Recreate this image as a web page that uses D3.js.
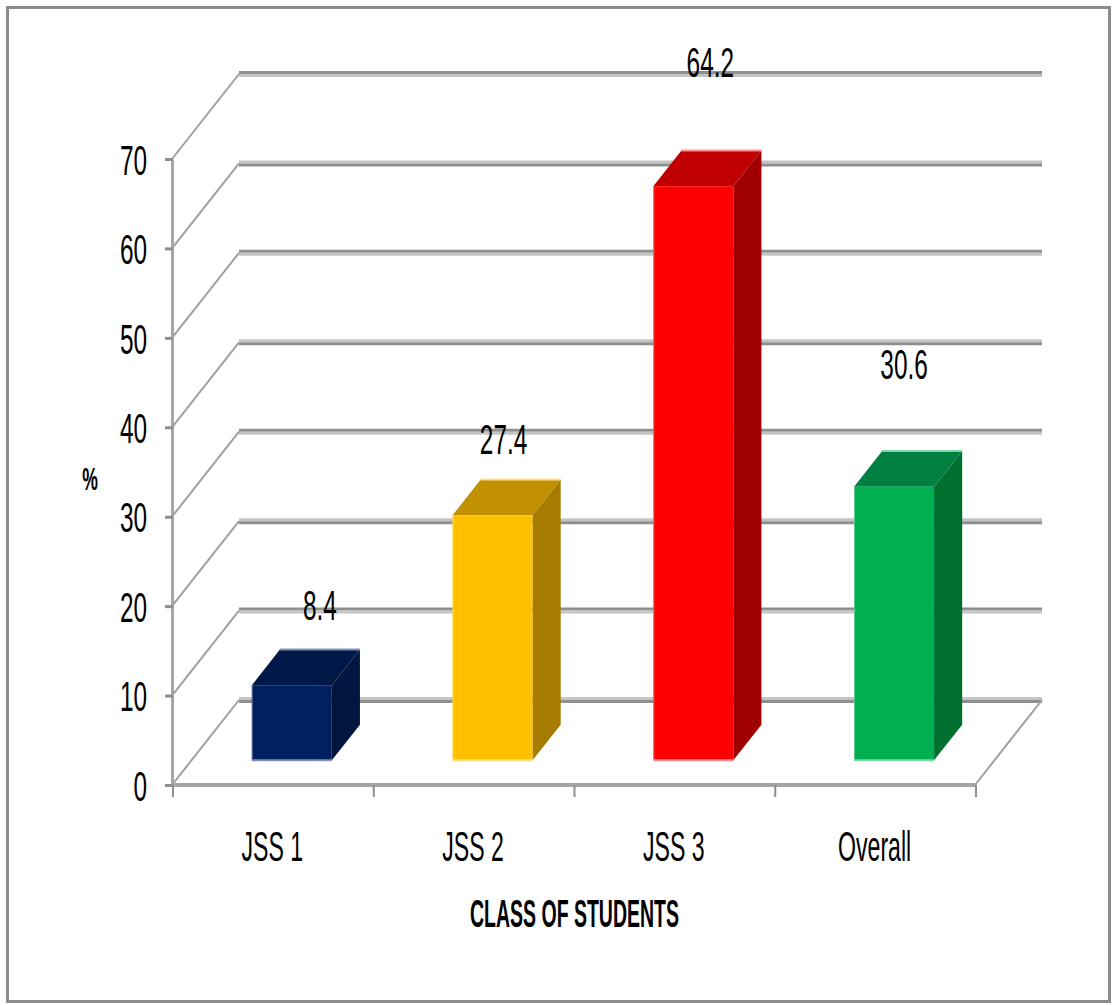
<!DOCTYPE html>
<html>
<head>
<meta charset="utf-8">
<script src="https://cdn.jsdelivr.net/npm/d3@7"></script>
<style>
  body { margin: 0; background: #fff; }
  text { font-family: "Liberation Sans", Arial, sans-serif; fill: #000; }
</style>
</head>
<body>
<div id="chart"></div>
<script>
// data
const categories = ["JSS 1", "JSS 2", "JSS 3", "Overall"];
const values = [8.4, 27.4, 64.2, 30.6];
const yTicks = [0, 10, 20, 30, 40, 50, 60, 70];
const xTitle = "CLASS OF STUDENTS";
const yTitle = "%";

// look
const faceColors = ["#002060", "#FFC000", "#FF0000", "#00B050"];
const topColors = ["#001848", "#C09000", "#C00000", "#008040"];
const sideColors = ["#00163f", "#A67C00", "#A00000", "#007030"];
const edgeColors = ["#8090b4", "#ffe08a", "#ff9090", "#80d8a8"];
// excel label placement nudges (dx, dy from front top centre)
const labelNudge = [[28, -80], [11, -76], [17, -124], [10, -122]];

const W = 1113, H = 1006;
const depthX = 67, depthY = -85;  // full depth offset of the back wall
const zFront = 0.29, zBack = 0.71; // bar depth span

const svg = d3.select("#chart")
    .append("svg")
    .attr("width", W)
    .attr("height", H);

const x = d3.scaleBand()
    .domain(categories)
    .range([172, 975]);

const y = d3.scaleLinear()
    .domain([0, 70])
    .range([785, 159]);

// oblique projection: x, value, depth -> screen
function P(px, v, z) {
    return [px + z * depthX, y(v) + z * depthY];
}

function squeezed(g, str, tx, ty, size, sx, anchor, weight) {
    return g.append("text")
        .attr("transform", "translate(" + tx + "," + ty + ") scale(" + sx + ",1)")
        .attr("text-anchor", anchor || "middle")
        .attr("dy", "0.35em")
        .style("font-size", size + "px")
        .style("font-weight", weight || "normal")
        .text(str);
}

// outer border
svg.append("rect")
    .attr("x", 7.5).attr("y", 7.5)
    .attr("width", 1102).attr("height", 994)
    .attr("fill", "none")
    .attr("stroke", "#8c8c8c")
    .attr("stroke-width", 3);

const walls = svg.append("g");

// back wall gridlines
yTicks.forEach((t, i) => {
    const a = P(x.range()[0], t, 1), b = P(x.range()[1], t, 1);
    walls.append("line")
        .attr("x1", a[0]).attr("y1", a[1] - 1.5)
        .attr("x2", b[0]).attr("y2", b[1] - 1.5)
        .attr("stroke", i % 2 ? "#8e8e8e" : "#c4c4c4")
        .attr("stroke-width", 3);
    walls.append("line")
        .attr("x1", a[0]).attr("y1", a[1] + 1.5)
        .attr("x2", b[0]).attr("y2", b[1] + 1.5)
        .attr("stroke", i % 2 ? "#c4c4c4" : "#8e8e8e")
        .attr("stroke-width", 3);
});

// side wall diagonals
yTicks.forEach(t => {
    const a = P(x.range()[0], t, 0), b = P(x.range()[0], t, 1);
    walls.append("line")
        .attr("x1", a[0]).attr("y1", a[1])
        .attr("x2", b[0]).attr("y2", b[1])
        .attr("stroke", "#a0a0a0")
        .attr("stroke-width", 2);
});

// floor right edge + front edge
{
    const a = P(x.range()[1], 0, 0), b = P(x.range()[1], 0, 1);
    walls.append("line")
        .attr("x1", a[0]).attr("y1", a[1])
        .attr("x2", b[0]).attr("y2", b[1])
        .attr("stroke", "#a0a0a0")
        .attr("stroke-width", 2);
    const c = P(x.range()[0], 0, 0);
    walls.append("line")
        .attr("x1", c[0]).attr("y1", c[1])
        .attr("x2", a[0]).attr("y2", a[1])
        .attr("stroke", "#a6a6a6")
        .attr("stroke-width", 4);
}

// y axis
const yAxis = svg.append("g")
    .attr("transform", "translate(172,0)")
    .call(d3.axisLeft(y).tickValues(yTicks).tickSize(7).tickSizeOuter(0).tickPadding(0));
yAxis.select(".domain").attr("stroke", "#a6a6a6").attr("stroke-width", 3);
yAxis.selectAll(".tick line").attr("stroke", "#8e8e8e").attr("stroke-width", 3).attr("x2", -7).attr("x1", 1);
yAxis.selectAll(".tick text").remove();
yTicks.forEach(t => squeezed(svg, t, 147, y(t) + 1, 42, 0.58, "end"));

// x axis ticks
const xAxis = svg.append("g")
    .attr("transform", "translate(0," + y(0) + ")")
    .call(d3.axisBottom(x).tickSize(0).tickSizeOuter(0));
xAxis.select(".domain").remove();
xAxis.selectAll(".tick text").remove();
categories.concat([null]).forEach((c, i) => {
    const px = c === null ? x.range()[1] : x(c);
    xAxis.append("line")
        .attr("x1", px + 1).attr("x2", px + 1)
        .attr("y1", 0).attr("y2", 12)
        .attr("stroke", "#8e8e8e")
        .attr("stroke-width", 2);
});
categories.forEach(c => squeezed(svg, c, x(c) + x.bandwidth() / 2, 846, 42, 0.55));

// bars
const barW = 80;
const bars = svg.append("g");
categories.forEach((c, i) => {
    const v = values[i];
    const x0 = x(c) + (x.bandwidth() - barW) / 2, x1 = x0 + barW;
    const pts = (arr) => arr.map(p => p.join(",")).join(" ");
    // side
    bars.append("polygon")
        .attr("points", pts([P(x1, 0, zFront), P(x1, v, zFront), P(x1, v, zBack), P(x1, 0, zBack)]))
        .attr("fill", sideColors[i]);
    // top
    bars.append("polygon")
        .attr("points", pts([P(x0, v, zFront), P(x1, v, zFront), P(x1, v, zBack), P(x0, v, zBack)]))
        .attr("fill", topColors[i]);
    // top back edge highlight
    const tb0 = P(x0, v, zBack), tb1 = P(x1, v, zBack);
    bars.append("line")
        .attr("x1", tb0[0]).attr("y1", tb0[1])
        .attr("x2", tb1[0]).attr("y2", tb1[1])
        .attr("stroke", edgeColors[i]).attr("stroke-width", 2);
    // front
    const f0 = P(x0, v, zFront), f1 = P(x1, 0, zFront);
    bars.append("rect")
        .attr("x", f0[0]).attr("y", f0[1])
        .attr("width", f1[0] - f0[0]).attr("height", f1[1] - f0[1])
        .attr("fill", faceColors[i]);
    bars.append("line")
        .attr("x1", f0[0]).attr("y1", f1[1])
        .attr("x2", f1[0]).attr("y2", f1[1])
        .attr("stroke", edgeColors[i]).attr("stroke-width", 2);
    bars.append("line")
        .attr("x1", f0[0] + 0.5).attr("y1", f0[1])
        .attr("x2", f0[0] + 0.5).attr("y2", f1[1])
        .attr("stroke", edgeColors[i]).attr("stroke-width", 1).attr("opacity", 0.7);
    // value label
    squeezed(svg, v, (f0[0] + f1[0]) / 2 + labelNudge[i][0], f0[1] + labelNudge[i][1], 42, 0.58);
});

// titles
squeezed(svg, xTitle, (x.range()[0] + x.range()[1]) / 2 + 1, 913, 39, 0.5, "middle", "bold");
squeezed(svg, yTitle, 90, 479, 32, 0.55, "middle", "bold");
</script>
</body>
</html>
